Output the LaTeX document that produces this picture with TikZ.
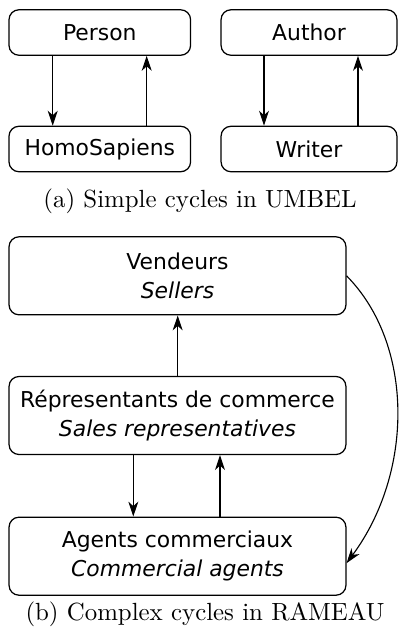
\documentclass[tikz,border=0pt]{standalone}
\usepackage{fontspec}
\newfontfamily\boxfont{DejaVu Sans}
\usetikzlibrary{arrows.meta}
\tikzset{
  cbox/.style={draw, line width=0.5pt, rounded corners=4pt, inner sep=0pt, align=center,
    font=\boxfont\fontsize{8.8}{11.7}\selectfont},
  smallbox/.style={cbox, minimum height=18.3pt},
  bigbox/.style={cbox, minimum width=135.6pt, minimum height=31.4pt},
  arr/.style={line width=0.45pt, -{Stealth[length=6pt,width=4pt,inset=1.8pt]}},
  captext/.style={font=\fontsize{10}{12}\selectfont, inner sep=0pt}
}
\begin{document}
\begin{tikzpicture}[x=0.4025pt, y=-0.4025pt]
\useasboundingbox (0,0) rectangle (398,630);
% (a)
\node[smallbox, minimum width=73.1pt] (person) at (99.8,32.5) {Person};
\node[smallbox, minimum width=73.1pt] (homo) at (99.8,149) {HomoSapiens};
\node[smallbox, minimum width=70.8pt] (author) at (309,32.5) {Author};
\node[smallbox, minimum width=70.8pt] (writer) at (309,149) {Writer};
\coordinate (xa1) at (52.7,0);
\coordinate (xa2) at (146.7,0);
\coordinate (xb1) at (264,0);
\coordinate (xb2) at (358,0);
\draw[arr] (person.south -| xa1) -- (homo.north -| xa1);
\draw[arr] (homo.north -| xa2) -- (person.south -| xa2);
\draw[arr] (author.south -| xb1) -- (writer.north -| xb1);
\draw[arr] (writer.north -| xb2) -- (author.south -| xb2);
\node[captext] (capa) at (200,201) {(a) Simple cycles in UMBEL};
% (b)
\node[bigbox] (vend) at (177.5,275.8) {Vendeurs\\\textit{Sellers}};
\node[bigbox] (rep) at (177.5,415.5) {Répresentants de commerce\\\textit{Sales representatives}};
\node[bigbox] (agents) at (177.5,556.2) {Agents commerciaux\\\textit{Commercial agents}};
\coordinate (xc0) at (177.7,0);
\coordinate (xc1) at (133.3,0);
\coordinate (xc2) at (220,0);
\draw[arr] (rep.north -| xc0) -- (vend.south -| xc0);
\draw[arr] (rep.south -| xc1) -- (agents.north -| xc1);
\draw[arr] (agents.north -| xc2) -- (rep.south -| xc2);
\draw[arr] (vend.east) .. controls (414,344) and (414,472) .. ([yshift=-2.8pt]agents.east);
\node[captext] (capb) at (205,614) {(b) Complex cycles in RAMEAU};
\end{tikzpicture}
\end{document}
